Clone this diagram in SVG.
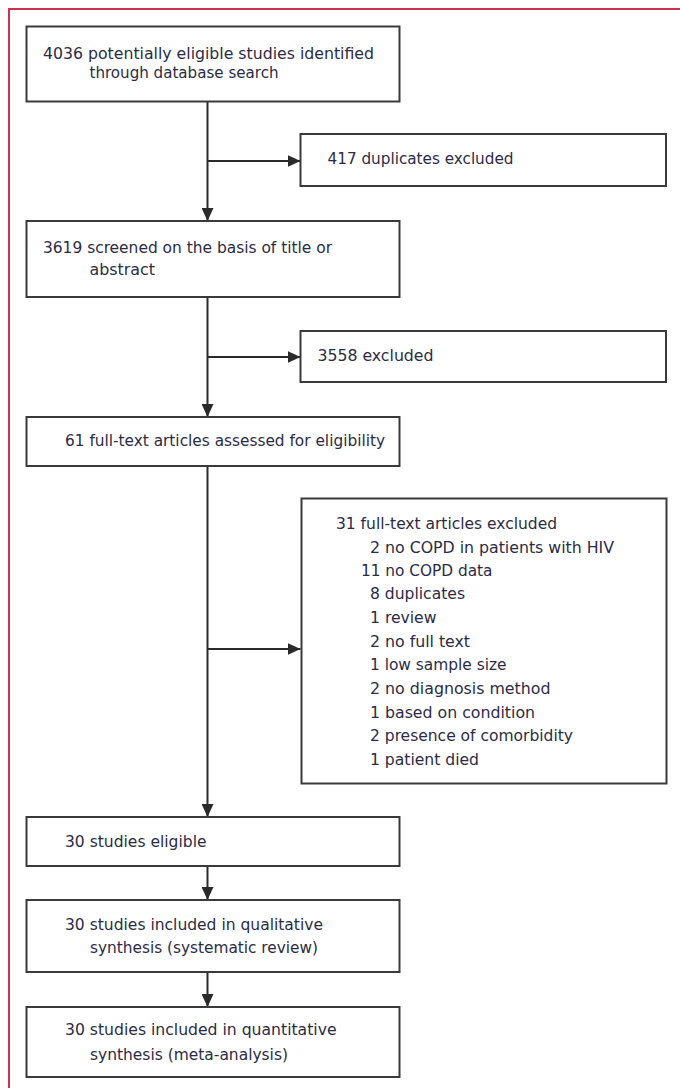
<svg xmlns="http://www.w3.org/2000/svg" width="680" height="1088" viewBox="0 0 680 1088">
  <style>
    .box { fill: #ffffff; stroke: #3a3a3a; stroke-width: 2; }
    .lbl { font-family: "DejaVu Sans Condensed", "Liberation Sans", "DejaVu Sans", sans-serif; font-size: 16px; fill: #2b2b44; }
    .wire { fill: none; stroke: #2a2a2a; stroke-width: 2; }
  </style>
  <defs>
    <marker id="head" markerWidth="13" markerHeight="12" refX="13" refY="6" orient="auto" markerUnits="userSpaceOnUse">
      <path d="M0,0 L13,6 L0,12 Z" fill="#2a2a2a"/>
    </marker>
  </defs>

  <rect width="680" height="1088" fill="#ffffff"/>
  <!-- page frame -->
  <rect x="9" y="9" width="700" height="1100" fill="none" stroke="#d0304f" stroke-width="2"/>

  <!-- connectors -->
  <g id="connectors">
    <line class="wire" x1="207.5" y1="101" x2="207.5" y2="221" marker-end="url(#head)"/>
    <line class="wire" x1="207.5" y1="161" x2="300.5" y2="161" marker-end="url(#head)"/>
    <line class="wire" x1="207.5" y1="297" x2="207.5" y2="417" marker-end="url(#head)"/>
    <line class="wire" x1="207.5" y1="357" x2="300.5" y2="357" marker-end="url(#head)"/>
    <line class="wire" x1="207.5" y1="466" x2="207.5" y2="817" marker-end="url(#head)"/>
    <line class="wire" x1="207.5" y1="649" x2="300.5" y2="649" marker-end="url(#head)"/>
    <line class="wire" x1="207.5" y1="866" x2="207.5" y2="900" marker-end="url(#head)"/>
    <line class="wire" x1="207.5" y1="972" x2="207.5" y2="1007" marker-end="url(#head)"/>
  </g>

  <g id="identified">
    <rect class="box" x="26.5" y="26.5" width="373" height="75"/>
    <text class="lbl" x="43" y="59" textLength="331" lengthAdjust="spacingAndGlyphs">4036 potentially eligible studies identified</text>
    <text class="lbl" x="89.5" y="78" textLength="189" lengthAdjust="spacingAndGlyphs">through database search</text>
  </g>

  <g id="duplicates">
    <rect class="box" x="300.5" y="134" width="365.5" height="52"/>
    <text class="lbl" x="327.5" y="164" textLength="186" lengthAdjust="spacingAndGlyphs">417 duplicates excluded</text>
  </g>

  <g id="screened">
    <rect class="box" x="26.5" y="221" width="373" height="76"/>
    <text class="lbl" x="43" y="253" textLength="289" lengthAdjust="spacingAndGlyphs">3619 screened on the basis of title or</text>
    <text class="lbl" x="89.5" y="275" textLength="65.5" lengthAdjust="spacingAndGlyphs">abstract</text>
  </g>

  <g id="excluded-screen">
    <rect class="box" x="300.5" y="331" width="365.5" height="51"/>
    <text class="lbl" x="317.5" y="361" textLength="116" lengthAdjust="spacingAndGlyphs">3558 excluded</text>
  </g>

  <g id="full-text">
    <rect class="box" x="26.5" y="417" width="373" height="49"/>
    <text class="lbl" x="65" y="446" textLength="320" lengthAdjust="spacingAndGlyphs">61 full-text articles assessed for eligibility</text>
  </g>

  <g id="excluded-full-text">
    <rect class="box" x="301.5" y="498.5" width="365" height="285"/>
    <text class="lbl" x="336" y="528.5" textLength="221" lengthAdjust="spacingAndGlyphs">31 full-text articles excluded</text>
    <text class="lbl" x="370" y="552.5" textLength="244" lengthAdjust="spacingAndGlyphs">2 no COPD in patients with HIV</text>
    <text class="lbl" x="361" y="575.5" textLength="131.5" lengthAdjust="spacingAndGlyphs">11 no COPD data</text>
    <text class="lbl" x="370" y="599" textLength="95" lengthAdjust="spacingAndGlyphs">8 duplicates</text>
    <text class="lbl" x="370" y="623" textLength="66.5" lengthAdjust="spacingAndGlyphs">1 review</text>
    <text class="lbl" x="370" y="646.5" textLength="100" lengthAdjust="spacingAndGlyphs">2 no full text</text>
    <text class="lbl" x="370" y="670" textLength="136.5" lengthAdjust="spacingAndGlyphs">1 low sample size</text>
    <text class="lbl" x="370" y="694" textLength="180.5" lengthAdjust="spacingAndGlyphs">2 no diagnosis method</text>
    <text class="lbl" x="370" y="717.5" textLength="165" lengthAdjust="spacingAndGlyphs">1 based on condition</text>
    <text class="lbl" x="370" y="741" textLength="203" lengthAdjust="spacingAndGlyphs">2 presence of comorbidity</text>
    <text class="lbl" x="370" y="765" textLength="109" lengthAdjust="spacingAndGlyphs">1 patient died</text>
  </g>

  <g id="eligible">
    <rect class="box" x="26.5" y="817" width="373" height="49"/>
    <text class="lbl" x="65" y="847" textLength="141.5" lengthAdjust="spacingAndGlyphs">30 studies eligible</text>
  </g>

  <g id="qualitative">
    <rect class="box" x="26.5" y="900" width="373" height="72"/>
    <text class="lbl" x="65" y="930" textLength="258" lengthAdjust="spacingAndGlyphs">30 studies included in qualitative</text>
    <text class="lbl" x="90" y="952.5" textLength="228" lengthAdjust="spacingAndGlyphs">synthesis (systematic review)</text>
  </g>

  <g id="quantitative">
    <rect class="box" x="26.5" y="1007" width="373" height="70"/>
    <text class="lbl" x="65" y="1035" textLength="271.5" lengthAdjust="spacingAndGlyphs">30 studies included in quantitative</text>
    <text class="lbl" x="90" y="1060" textLength="198" lengthAdjust="spacingAndGlyphs">synthesis (meta-analysis)</text>
  </g>
</svg>
